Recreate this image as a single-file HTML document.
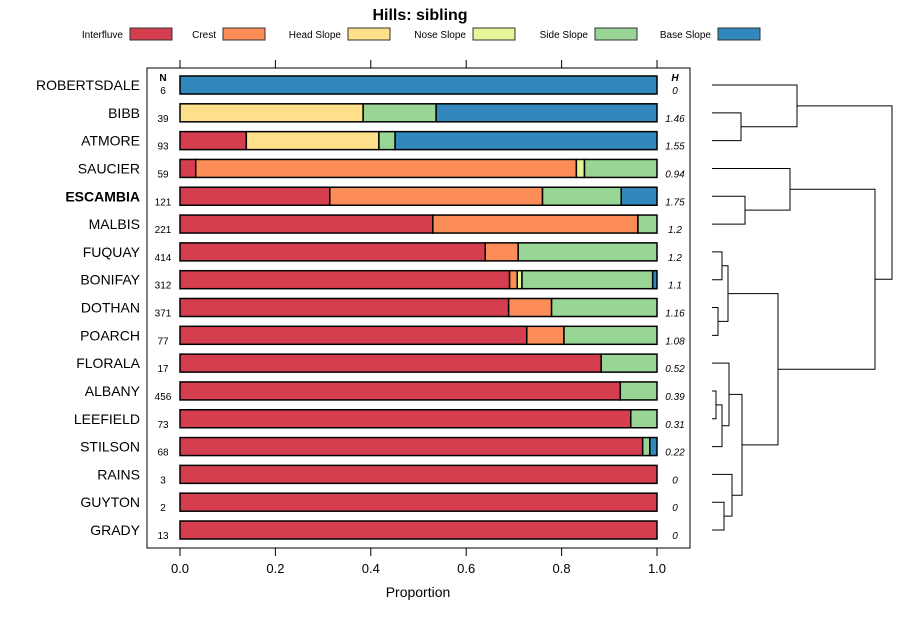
<!DOCTYPE html>
<html><head><meta charset="utf-8"><style>
body{margin:0;background:#fff}
svg{font-family:"Liberation Sans",Arial,sans-serif}
</style></head><body>
<svg id="c" width="900" height="620" xmlns="http://www.w3.org/2000/svg">
<text x="420" y="20" text-anchor="middle" font-size="16" font-weight="bold">Hills: sibling</text>
<g id="legend"></g>
<rect x="147" y="68" width="543" height="480" fill="none" stroke="#000" stroke-width="1"/>
<g id="axis"></g>
<text x="418" y="597" text-anchor="middle" font-size="14">Proportion</text>
<text x="163" y="81" text-anchor="middle" font-size="10" font-weight="bold">N</text>
<text x="675" y="81" text-anchor="middle" font-size="10" font-weight="bold" font-style="italic">H</text>
<g id="bars"></g>
<g id="dendro" stroke="#000" stroke-width="1" fill="none"></g>
</svg>
<script>
const names=["ROBERTSDALE","BIBB","ATMORE","SAUCIER","ESCAMBIA","MALBIS","FUQUAY","BONIFAY","DOTHAN","POARCH","FLORALA","ALBANY","LEEFIELD","STILSON","RAINS","GUYTON","GRADY"];
const nVals=[6,39,93,59,121,221,414,312,371,77,17,456,73,68,3,2,13];
const hVals=["0","1.46","1.55","0.94","1.75","1.2","1.2","1.1","1.16","1.08","0.52","0.39","0.31","0.22","0","0","0"];
const classes=["Interfluve","Crest","Head Slope","Nose Slope","Side Slope","Base Slope"];
const colors=["#D53E4F","#FC8D59","#FEE08B","#E6F598","#99D594","#3288BD"];
const interfluve=[0,0,0.139,0.033,0.314,0.530,0.640,0.691,0.689,0.727,0.883,0.923,0.945,0.970,1,1,1];
const crest=[0,0,0,0.798,0.446,0.430,0.069,0.016,0.090,0.078,0,0,0,0,0,0,0];
const headSlope=[0,0.384,0.278,0,0,0,0,0,0,0,0,0,0,0,0,0,0];
const noseSlope=[0,0,0,0.017,0,0,0,0.010,0,0,0,0,0,0,0,0,0];
const sideSlope=[0,0.153,0.034,0.152,0.165,0.040,0.291,0.274,0.221,0.195,0.117,0.077,0.055,0.015,0,0,0];
const baseSlope=[1,0.463,0.549,0,0.075,0,0,0.009,0,0,0,0,0,0.015,0,0,0];
const ticks=[0,0.2,0.4,0.6,0.8,1.0];
const tickLabels=["0.0","0.2","0.4","0.6","0.8","1.0"];
const series=[interfluve,crest,headSlope,noseSlope,sideSlope,baseSlope];
const NS="http://www.w3.org/2000/svg";
const x=v=>180+v*477;
const y=i=>85+i*27.8125;
function mk(tag,attrs,parent,txt){const e=document.createElementNS(NS,tag);for(const k in attrs)e.setAttribute(k,attrs[k]);if(txt!=null)e.textContent=txt;parent.appendChild(e);return e;}
// legend
const lg=document.getElementById('legend');
const legTx=[123,216,341,466,588,711];
classes.forEach((c,i)=>{
 const t=mk('text',{x:legTx[i],y:38,'text-anchor':'end','font-size':'10'},lg,c);
 
 
 const r=mk('rect',{x:legTx[i]+7,y:28,width:42,height:12,fill:colors[i],stroke:'#333','stroke-width':1},lg);
 
 
});
// axis
const ax=document.getElementById('axis');
ticks.forEach((t,i)=>{
 const a=mk('line',{x1:x(t),x2:x(t),y1:60,y2:68,stroke:'#000'},ax);
 
 
 const b=mk('line',{x1:x(t),x2:x(t),y1:548,y2:556,stroke:'#000'},ax);
 
 
 const l=mk('text',{x:x(t),y:573,'text-anchor':'middle','font-size':'13'},ax,tickLabels[i]);
 
 
});
// bars
const bg=document.getElementById('bars');
names.forEach((n,i)=>{
 const cy=y(i);
 const lab=mk('text',{x:140,y:cy+5,'text-anchor':'end','font-size':'14','font-weight':n==='ESCAMBIA'?'bold':'normal'},bg,n);
 
 
 const nl=mk('text',{x:163,y:cy+9,'text-anchor':'middle','font-size':'10'},bg,String(nVals[i]));
 
 
 const hl=mk('text',{x:675,y:cy+9,'text-anchor':'middle','font-size':'10','font-style':'italic'},bg,hVals[i]);
 
 
 let cum=0;
 series.forEach((s,k)=>{
  const v=s[i]; if(v<=0)return;
  const r=mk('rect',{x:x(cum),y:cy-9,width:x(cum+v)-x(cum),height:18,fill:colors[k],stroke:'#000','stroke-width':1.5},bg);
  
  
  cum+=v;
 });
});
// dendrogram
const dg=document.getElementById('dendro');
function leaf(i){return {x:712,y:y(i)};}
function join(a,b,hx){mk('path',{d:`M${a.x},${a.y}H${hx}V${b.y}H${b.x}`},dg);return {x:hx,y:(a.y+b.y)/2};}
const A=join(leaf(0),join(leaf(1),leaf(2),741),797);
const B=join(leaf(3),join(leaf(4),leaf(5),745),790);
const C1=join(join(leaf(6),leaf(7),722),join(leaf(8),leaf(9),718),728);
const C2a=join(leaf(10),join(join(leaf(11),leaf(12),716),leaf(13),722),729);
const C2b=join(leaf(14),join(leaf(15),leaf(16),724),732);
const C=join(C1,join(C2a,C2b,742),778);
join(A,join(B,C,875),892);
</script>
</body></html>
